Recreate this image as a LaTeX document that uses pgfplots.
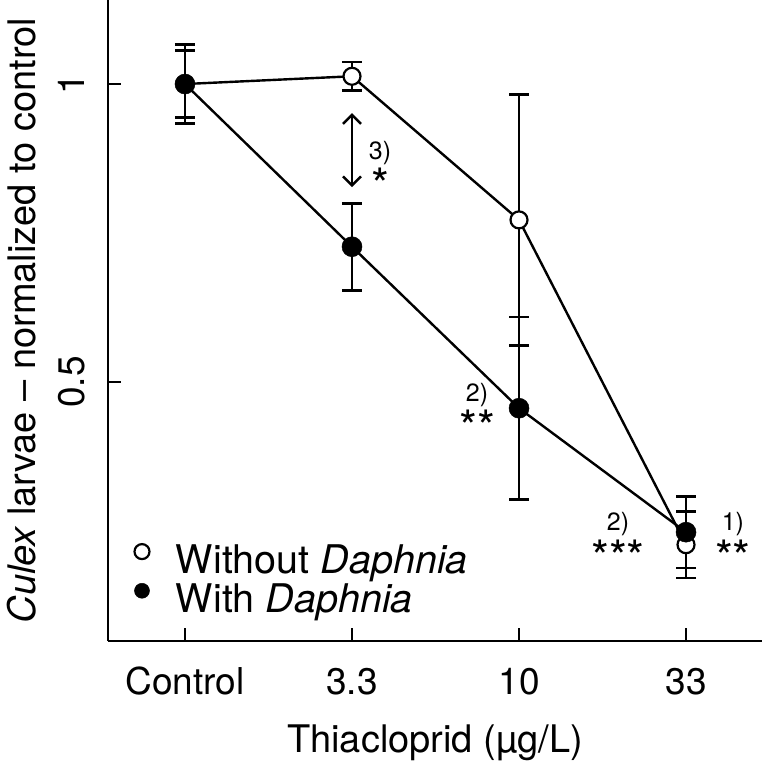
\documentclass[border=0pt]{standalone}
\usepackage{fontspec}
\setmainfont{TeX Gyre Heros}
\usepackage{pgfplots}
\pgfplotsset{compat=1.18}
\usetikzlibrary{arrows.meta}

\newcommand{\tickfont}{\fontsize{37bp}{40bp}\selectfont}
\newcommand{\labfont}{\fontsize{38bp}{42bp}\selectfont}
\newcommand{\legfont}{\fontsize{39.5bp}{42bp}\selectfont}
\newcommand{\numfont}{\fontsize{25bp}{28bp}\selectfont}
\newcommand{\starfont}{\fontsize{46bp}{48bp}\selectfont}

\begin{document}
\begin{tikzpicture}
\begin{axis}[
  scale only axis, width=654bp, height=641bp,
  xmin=-0.461, xmax=3.455, ymin=0.0654, ymax=1.141,
  axis x line=bottom, axis y line=left,
  axis line style={-, line width=2.5bp},
  tick align=inside, major tick length=13bp,
  tick style={line width=2.5bp, black},
  xtick={0,1,2,3}, xticklabels={Control,3.3,10,33},
  ytick={0.5,1}, yticklabels={0.5,1},
  xticklabel style={font=\tickfont, anchor=base, yshift=-53bp},
  yticklabel style={font=\tickfont, xshift=-23bp, rotate=90, anchor=base},
  xlabel={Thiacloprid (µg/L)},
  ylabel={\textit{Culex} larvae – normalized to control},
  xlabel style={font=\labfont, at={(axis description cs:0.5,0)}, anchor=base, yshift=-111bp},
  ylabel style={font=\labfont, at={(axis description cs:-0.1101,0.5)}, anchor=base},
  clip=false,
  legend image code/.code={\draw[#1, mark size=7.5bp] plot coordinates {(0bp,8bp)};},
  legend cell align=left,
  legend style={draw=none, fill=none, inner sep=0pt, outer sep=0pt,
    at={(axis description cs:0,0)}, anchor=south west, xshift=26.5bp, yshift=27.1bp,
    row sep=8.5bp, nodes={inner sep=0pt, outer sep=0pt}, font=\legfont,
    /tikz/every odd column/.append style={column sep=26.5bp}},
  error bars/y dir=both, error bars/y explicit,
  error bars/error bar style={draw=black, line width=2.8bp},
  error bars/error mark options={rotate=90, mark size=10bp, line width=2.8bp, draw=black},
]
% error bars first, so that the circles lie on top
\addplot[draw=none, mark=none, forget plot] coordinates {
  (0,1.000) +- (0,0.066)
  (1,1.013) +- (0,0.024)
  (2,0.772) +- (0,0.211)
  (3,0.227) +- (0,0.056)
};
\addplot[draw=none, mark=none, forget plot] coordinates {
  (0,1.000) +- (0,0.056)
  (1,0.727) +- (0,0.073)
  (2,0.456) +- (0,0.153)
  (3,0.248) +- (0,0.060)
};
% without Daphnia
\addplot[black, line width=2.4bp, mark=*, mark size=8.5bp,
  mark options={fill=white, draw=black, line width=2.2bp}] coordinates {
  (0,1.000) (1,1.013) (2,0.772) (3,0.227)
};
\addlegendentry{Without \textit{Daphnia}}
% with Daphnia
\addplot[black, line width=2.4bp, mark=*, mark size=10bp,
  mark options={fill=black, draw=black, line width=0.5bp}] coordinates {
  (0,1.000) (1,0.727) (2,0.456) (3,0.248)
};
\addlegendentry{With \textit{Daphnia}}

\draw[{Straight Barb[length=9bp,width=18bp]}-{Straight Barb[length=9bp,width=18bp]}, line width=2.4bp]
  (axis cs:1,0.951) -- (axis cs:1,0.827);
\node[font=\numfont, anchor=base] at (axis cs:1.168,0.874) {3)};
\node[font=\starfont, anchor=base, yshift=-26bp] at (axis cs:1.168,0.847) {*};
\node[font=\numfont, anchor=base] at (axis cs:1.749,0.468) {2)};
\node[font=\starfont, anchor=base, yshift=-26bp] at (axis cs:1.749,0.440) {**};
\node[font=\numfont, anchor=base] at (axis cs:2.593,0.250) {2)};
\node[font=\starfont, anchor=base, yshift=-26bp] at (axis cs:2.593,0.223) {***};
\node[font=\numfont, anchor=base] at (axis cs:3.281,0.250) {1)};
\node[font=\starfont, anchor=base, yshift=-26bp] at (axis cs:3.281,0.223) {**};
\end{axis}
\pgfresetboundingbox
\path[use as bounding box] (-108bp,-120bp) rectangle (654bp,641bp);
\end{tikzpicture}
\end{document}
